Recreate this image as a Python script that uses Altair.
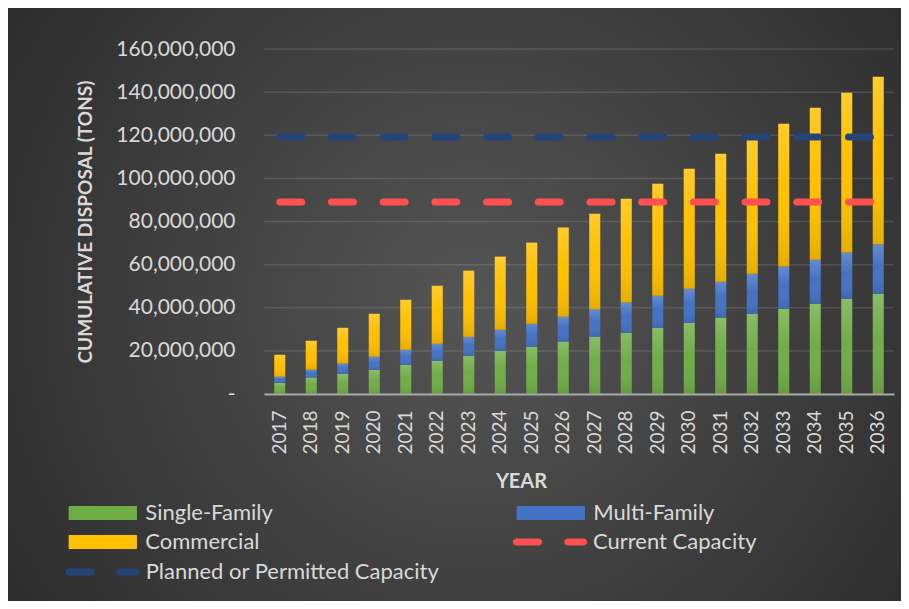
import altair as alt
import pandas as pd

years = [str(y) for y in range(2017, 2037)]
# values in millions of tons
single_family = [5.2, 7.6, 9.4, 11.2, 13.5, 15.4, 17.7, 20.0, 21.9, 24.3,
                 26.6, 28.4, 30.7, 33.0, 35.4, 37.2, 39.5, 41.9, 44.2, 46.5]
multi_family = [2.8, 3.7, 4.7, 6.1, 7.0, 7.9, 8.8, 9.8, 10.7, 11.5,
                12.7, 14.0, 14.9, 15.8, 16.7, 18.6, 19.6, 20.4, 21.4, 22.8]
commercial = [10.2, 13.4, 16.6, 19.9, 23.2, 26.9, 30.7, 33.9, 37.6, 41.4,
              44.3, 48.2, 51.9, 55.7, 59.3, 62.2, 66.2, 70.4, 74.1, 77.8]
current_capacity = 89.0
planned_capacity = 119.2

series_names = ["Single-Family", "Multi-Family", "Commercial"]
series_colors = ["#70ad47", "#4472c4", "#ffc000"]
# legend fills column by column: col1 = Single-Family, Commercial; col2 = Multi-Family
legend_order = ["Single-Family", "Commercial", "Multi-Family"]
legend_colors = ["#70ad47", "#ffc000", "#4472c4"]
y_ticks = [0, 20e6, 40e6, 60e6, 80e6, 100e6, 120e6, 140e6, 160e6]

rows = []
for i, yr in enumerate(years):
    for k, (name, vals) in enumerate(zip(series_names, [single_family, multi_family, commercial])):
        rows.append({"year": yr, "series": name, "rank": k, "tons": vals[i] * 1e6})
bars_df = pd.DataFrame(rows)

cap_df = pd.DataFrame({
    "year": years,
    "current": [current_capacity * 1e6 for _ in years],
    "planned": [planned_capacity * 1e6 for _ in years],
})
grid_df = pd.DataFrame({"tick": y_ticks})

LABEL = "#d9d9d9"
FONT = "Lato"
YT = "CUMULATIVE DISPOSAL (TONS)"
LEG_FS = 22

swatch_path = "M-3.415,-0.7H3.415V0.7H-3.415Z"
dash_path = ("M-3.355,-0.36H-1.145A0.36,0.36,0,0,1,-1.145,0.36H-3.355A0.36,0.36,0,0,1,-3.355,-0.36Z"
             "M1.775,-0.36H3.355A0.36,0.36,0,0,1,3.355,0.36H1.775A0.36,0.36,0,0,1,1.775,-0.36Z")

x_enc = alt.X("year:O", title="YEAR",
              scale=alt.Scale(paddingInner=0.65, paddingOuter=0.325),
              axis=alt.Axis(labelAngle=270, labelAlign="right", labelBaseline="middle",
                            labelFont=FONT, labelFontSize=19, labelColor=LABEL, labelPadding=16,
                            ticks=False, domainColor="#a6a6a6", domainWidth=2, grid=False,
                            titleFont=FONT, titleFontSize=20, titleFontWeight="bold",
                            titleColor=LABEL, titleX=257, titleY=93, titleAlign="center",
                            titleBaseline="alphabetic", zindex=1))

y_scale = alt.Scale(domain=[0, 160e6], nice=False)
y_enc = alt.Y("tons:Q", stack="zero", title=YT, scale=y_scale,
              axis=alt.Axis(values=y_ticks,
                            labelExpr="datum.value == 0 ? '-' : format(datum.value, ',')",
                            labelFont=FONT, labelFontSize=21, labelColor=LABEL, labelPadding=29,
                            ticks=False, domain=False, grid=False,
                            titleFont=FONT, titleFontSize=19, titleFontWeight="bold",
                            titleColor=LABEL, titleAngle=270, titleX=-179, titleY=172.5,
                            titleAlign="center", titleBaseline="middle", zindex=1))

bg = alt.Chart(pd.DataFrame({"a": [0]})).mark_rect(
    fill=alt.Gradient(gradient="radial", x1=0.52, y1=0.5, x2=0.52, y2=0.5, r1=0, r2=0.72,
                      stops=[alt.GradientStop(color="#555555", offset=0),
                             alt.GradientStop(color="#262626", offset=1)])
).encode(x=alt.value(-256), x2=alt.value(637), y=alt.value(-41), y2=alt.value(552))

grid = alt.Chart(grid_df).mark_rule(color="#ffffff", opacity=0.12, strokeWidth=1.5).encode(
    y=alt.Y("tick:Q", title=YT, scale=y_scale)
)

bars = alt.Chart(bars_df).mark_bar().encode(
    x=x_enc,
    y=y_enc,
    fill=alt.Fill("series:N", scale=alt.Scale(domain=legend_order, range=legend_colors),
                  legend=alt.Legend(title=None, orient="none", legendX=-172.2, legendY=453,
                                    columns=2, columnPadding=242, rowPadding=7, padding=0,
                                    symbolType=swatch_path, symbolSize=400, symbolStrokeWidth=0,
                                    labelOffset=31.5, labelFont=FONT, labelFontSize=LEG_FS,
                                    labelColor=LABEL, labelLimit=500)),
    order=alt.Order("rank:Q"),
)

shade = alt.Chart(bars_df).mark_bar(
    fill=alt.Gradient(gradient="linear", x1=0, x2=0, y1=0, y2=1,
                      stops=[alt.GradientStop(color="rgba(255,255,255,0.18)", offset=0),
                             alt.GradientStop(color="rgba(255,255,255,0)", offset=0.45),
                             alt.GradientStop(color="rgba(0,0,0,0.1)", offset=1)])
).encode(
    x=alt.X("year:O", title="YEAR"),
    y=alt.Y("tons:Q", stack="zero", title=YT),
    detail="series:N",
    order=alt.Order("rank:Q"),
)

current = alt.Chart(cap_df).transform_calculate(lbl="'Current Capacity'").mark_line(
    strokeWidth=7, strokeCap="round", strokeDash=[22, 29.7]
).encode(
    x=alt.X("year:O", title="YEAR"),
    y=alt.Y("current:Q", title=YT),
    stroke=alt.Stroke("lbl:N", scale=alt.Scale(domain=["Current Capacity"], range=["#ff5050"]),
                      legend=alt.Legend(title=None, orient="none", legendX=275, legendY=482,
                                        padding=0, symbolType=dash_path, symbolSize=400,
                                        symbolFillColor="#ff5050", symbolStrokeWidth=0,
                                        labelOffset=32, labelFont=FONT, labelFontSize=LEG_FS,
                                        labelColor=LABEL, labelLimit=500)),
)

planned = alt.Chart(cap_df).transform_calculate(lbl="'Planned or Permitted Capacity'").mark_line(
    strokeWidth=7, strokeCap="round", strokeDash=[22, 29.7]
).encode(
    x=alt.X("year:O", title="YEAR"),
    y=alt.Y("planned:Q", title=YT),
    stroke=alt.Stroke("lbl:N", scale=alt.Scale(domain=["Planned or Permitted Capacity"], range=["#254478"]),
                      legend=alt.Legend(title=None, orient="none", legendX=-172.35, legendY=512,
                                        padding=0, symbolType=dash_path, symbolSize=400,
                                        symbolFillColor="#254478", symbolStrokeWidth=0,
                                        labelOffset=32, labelFont=FONT, labelFontSize=LEG_FS,
                                        labelColor=LABEL, labelLimit=500)),
)

chart = alt.layer(bg, grid, bars, shade, current, planned).resolve_scale(
    stroke="independent"
).properties(
    width=630, height=345,
    padding={"left": 256, "top": 41, "right": 7, "bottom": 207},
    autosize=alt.AutoSizeParams(type="none"),
    background="#2a2a2a",
).configure_view(stroke=None).configure(font=FONT)

chart.save("out.html", embed_options={"renderer": "svg", "actions": False})
